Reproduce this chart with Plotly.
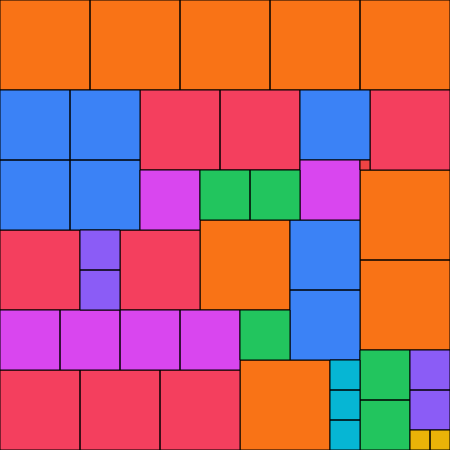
import plotly.graph_objects as go

# squares: left edge, top edge, side length
square_x = [0, 90, 180, 270, 360, 360, 360, 200, 240,
            140, 220, 370, 0, 120, 0, 80, 160,
            0, 70, 0, 70, 300, 290, 290,
            140, 300, 0, 60, 120, 180,
            200, 250, 240, 360, 360,
            80, 80, 410, 410,
            330, 330, 330,
            410, 430,
            360]
square_y = [0, 0, 0, 0, 0, 170, 260, 220, 360,
            90, 90, 90, 230, 230, 370, 370, 370,
            90, 90, 160, 160, 90, 220, 290,
            170, 160, 310, 310, 310, 310,
            170, 170, 310, 350, 400,
            230, 270, 350, 390,
            360, 390, 420,
            430, 430,
            160]
square_size = [90] * 9 + [80] * 8 + [70] * 7 + [60] * 6 + [50] * 5 + [40] * 4 + [30] * 3 + [20] * 2 + [10]

colors = {
    90: "#F97316",
    80: "#F43F5E",
    70: "#3B82F6",
    60: "#D946EF",
    50: "#22C55E",
    40: "#8B5CF6",
    30: "#06B6D4",
    20: "#EAB308",
    10: "#EF4444",
}

fig = go.Figure()

# one filled trace per size, each square a closed segment
for size, color in colors.items():
    xs, ys = [], []
    for x, y, s in zip(square_x, square_y, square_size):
        if s != size:
            continue
        xs += [x, x + s, x + s, x, x, None]
        ys += [y, y, y + s, y + s, y, None]
    fig.add_trace(go.Scatter(
        x=xs, y=ys, mode="lines", fill="toself",
        fillcolor=color, line=dict(color="black", width=1),
        hoverinfo="skip", showlegend=False,
    ))

fig.update_xaxes(range=[0, 450], visible=False, fixedrange=True)
fig.update_yaxes(range=[450, 0], visible=False, fixedrange=True)
fig.update_layout(
    width=450, height=450,
    margin=dict(l=0, r=0, t=0, b=0),
    paper_bgcolor="white", plot_bgcolor="white",
)

# drop the default page margin so the chart sits at the window corner
fig.write_html("out.html", config={"displayModeBar": False},
               post_script="document.body.style.margin = '0';")
